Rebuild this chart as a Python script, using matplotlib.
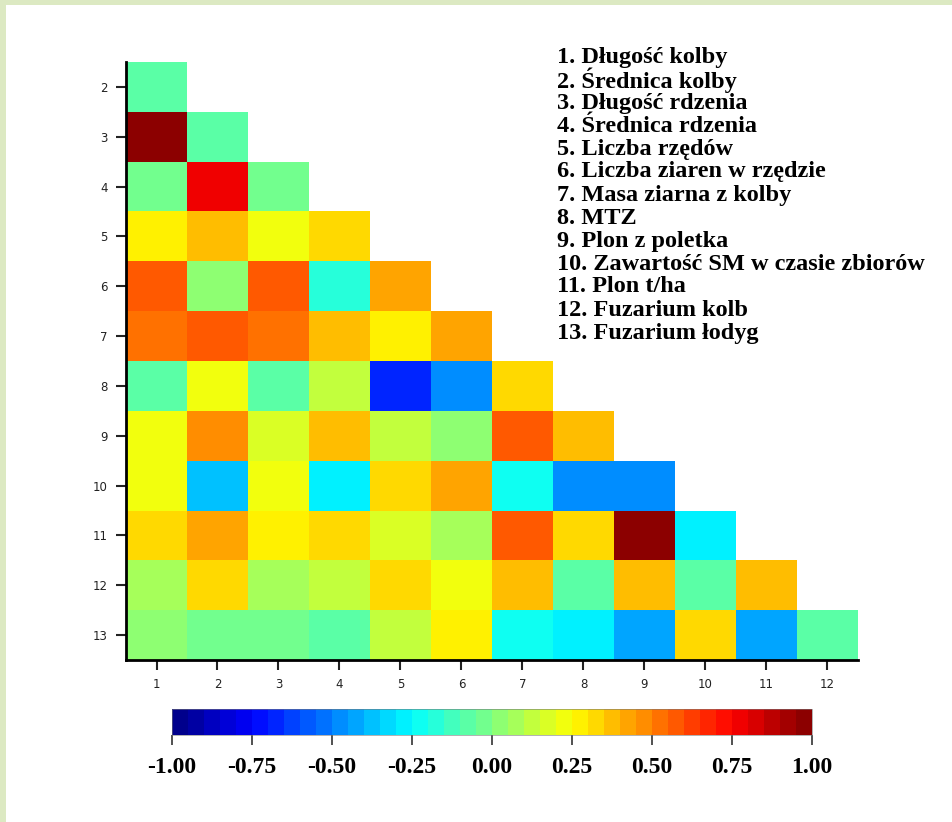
import numpy as np
import matplotlib
matplotlib.use("Agg")
from matplotlib import pyplot as plt
from matplotlib.colors import LinearSegmentedColormap, ListedColormap
from matplotlib.patches import Rectangle

# lower-triangle correlations, row k holds variable k against variables 1..k-1
r2 = [-0.07]
r3 = [0.95, -0.07]
r4 = [-0.035, 0.76, -0.03]
r5 = [0.26, 0.36, 0.21, 0.30]
r6 = [0.575, 0.005, 0.58, -0.17, 0.40]
r7 = [0.535, 0.58, 0.535, 0.37, 0.26, 0.41]
r8 = [-0.07, 0.21, -0.07, 0.10, -0.69, -0.475, 0.30]
r9 = [0.22, 0.455, 0.18, 0.38, 0.12, 0.025, 0.58, 0.36]
r10 = [0.22, -0.375, 0.20, -0.29, 0.31, 0.41, -0.21, -0.495, -0.495]
r11 = [0.33, 0.40, 0.26, 0.32, 0.16, 0.06, 0.58, 0.30, 0.95, -0.29]
r12 = [0.08, 0.32, 0.06, 0.14, 0.32, 0.20, 0.36, -0.055, 0.35, -0.055, 0.35]
r13 = [0.005, -0.035, -0.015, -0.07, 0.14, 0.26, -0.21, -0.30, -0.435, 0.34, -0.435, -0.07]
rows = [r2, r3, r4, r5, r6, r7, r8, r9, r10, r11, r12, r13]

col_labels = [str(i) for i in range(1, 13)]
row_labels = [str(i) for i in range(2, 14)]
cbar_ticks = [-1.0, -0.75, -0.5, -0.25, 0.0, 0.25, 0.5, 0.75, 1.0]
names = ["1. Długość kolby", "2. Średnica kolby", "3. Długość rdzenia",
         "4. Średnica rdzenia", "5. Liczba rzędów", "6. Liczba ziaren w rzędzie",
         "7. Masa ziarna z kolby", "8. MTZ", "9. Plon z poletka",
         "10. Zawartość SM w czasie zbiorów", "11. Plon t/ha",
         "12. Fuzarium kolb", "13. Fuzarium łodyg"]

mat = np.full((12, 12), np.nan)
for i, r in enumerate(rows):
    mat[i, :len(r)] = r
mat = np.ma.masked_invalid(mat)

# jet-like map, 40 discrete steps like the original colour bar
base = LinearSegmentedColormap.from_list("jetlike", [
    (0.0, (0, 0, 0.5)), (0.125, (0, 0, 1)), (0.375, (0, 1, 1)), (0.5, (0.5, 1, 0.5)),
    (0.625, (1, 1, 0)), (0.875, (1, 0, 0)), (1.0, (0.5, 0, 0))])
cmap = ListedColormap(base((np.arange(40) + 0.5) / 40))

fig = plt.figure(figsize=(9.53, 8.22), dpi=100)
fig.patch.set_facecolor("#dce9c2")
fig.patches.append(Rectangle((6 / 953, 0), 1, 1 - 5 / 822, transform=fig.transFigure,
                             facecolor="white", edgecolor="none", zorder=-10))

ax = fig.add_axes([126 / 953, 1 - 660 / 822, 732 / 953, 598 / 822])
ax.patch.set_alpha(0)
mesh = ax.pcolormesh(np.arange(13) + 0.5, np.arange(13) + 1.5, mat, cmap=cmap, vmin=-1, vmax=1)
ax.set_xlim(0.5, 12.5)
ax.set_ylim(13.5, 1.5)
ax.set_xticks(range(1, 13))
ax.set_xticklabels(col_labels)
ax.set_yticks(range(2, 14))
ax.set_yticklabels(row_labels)
for s in ["top", "right"]:
    ax.spines[s].set_visible(False)
for s in ["left", "bottom"]:
    ax.spines[s].set_linewidth(2)
ax.tick_params(labelsize=8.5, width=1.5, length=7, colors="#222222", pad=6)

cax = fig.add_axes([172 / 953, 1 - 735 / 822, 640 / 953, 26 / 822])
cb = fig.colorbar(mesh, cax=cax, orientation="horizontal", ticks=cbar_ticks)
cb.outline.set_linewidth(0.4)
cb.outline.set_edgecolor("#777777")
cb.ax.tick_params(length=7, width=1.2, pad=9, color="#333333")
cb.ax.set_xticklabels(["%.2f" % t for t in cbar_ticks], fontfamily="Liberation Serif",
                      fontweight="bold", fontsize=17)

y0 = 1 - 57 / 822
for k, n in enumerate(names):
    fig.text(557 / 953, y0 - k * 23 / 822, n, fontfamily="Liberation Serif",
             fontweight="bold", fontsize=17.5, va="center", ha="left")

fig.savefig("out.png", dpi=100, facecolor=fig.get_facecolor())
